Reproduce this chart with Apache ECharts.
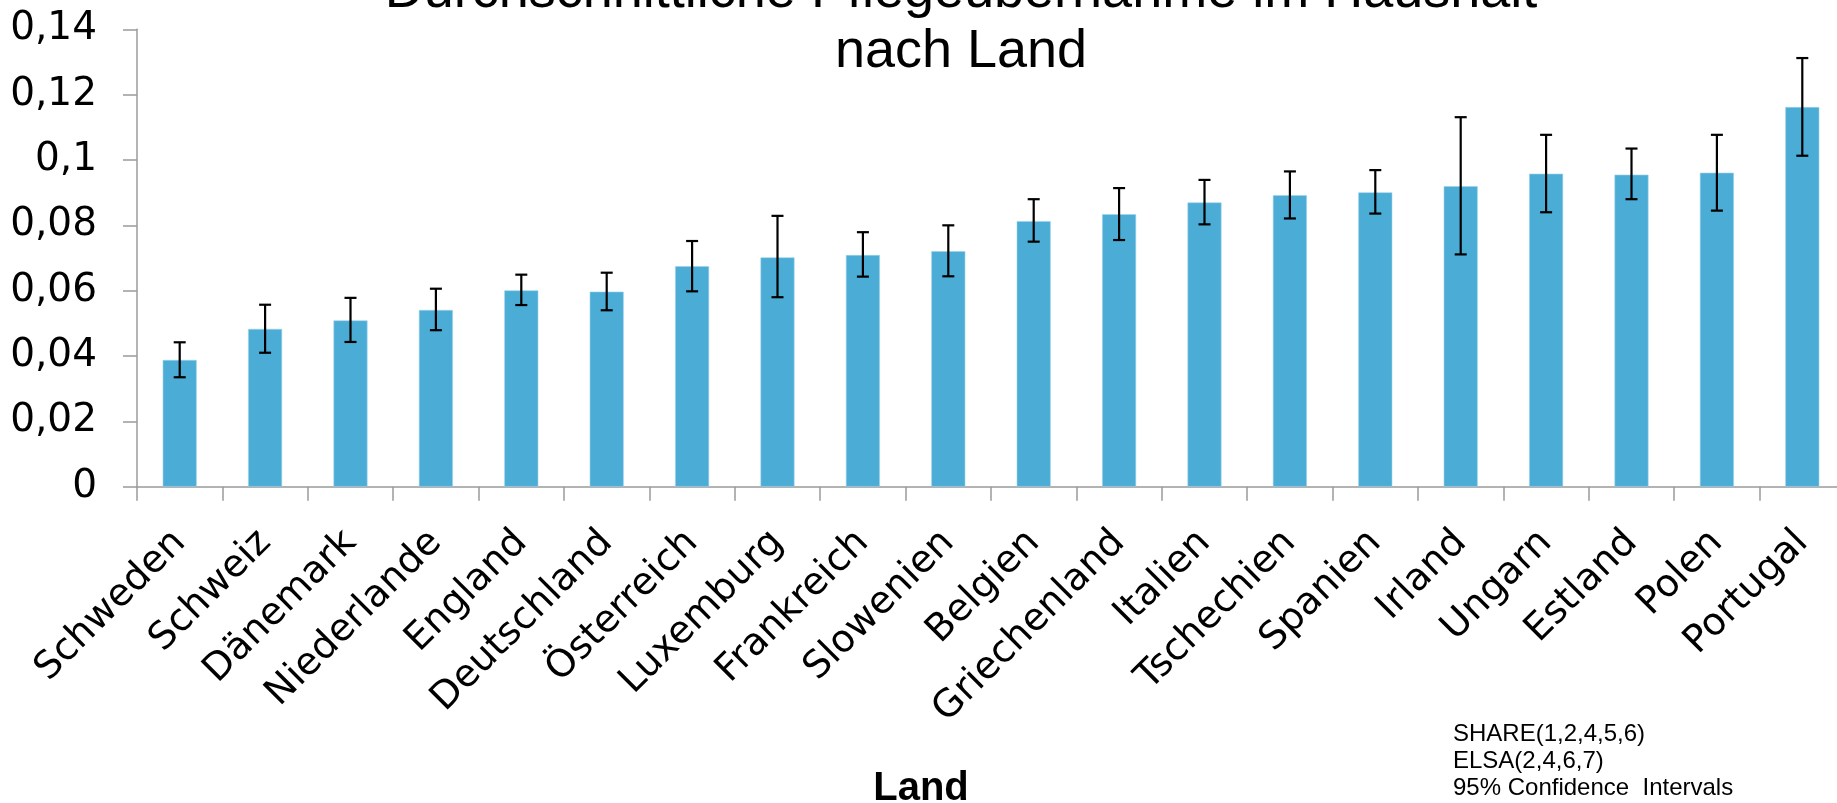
<!DOCTYPE html>
<html>
<head>
<meta charset="utf-8">
<script src="https://cdn.jsdelivr.net/npm/echarts@6/dist/echarts.min.js"></script>
<style>
  html, body { margin: 0; padding: 0; background: #fff; }
  #chart { width: 1837px; height: 803px; }
</style>
</head>
<body>
<div id="chart"></div>
<script>
const categories = ['Schweden', 'Schweiz', 'Dänemark', 'Niederlande', 'England', 'Deutschland', 'Österreich', 'Luxemburg', 'Frankreich', 'Slowenien', 'Belgien', 'Griechenland', 'Italien', 'Tschechien', 'Spanien', 'Irland', 'Ungarn', 'Estland', 'Polen', 'Portugal'];
const values = [0.0388, 0.0483, 0.0509, 0.0541, 0.0601, 0.0597, 0.0675, 0.0702, 0.0709, 0.0721, 0.0813, 0.0834, 0.0870, 0.0892, 0.0901, 0.0920, 0.0958, 0.0955, 0.0961, 0.1162];
const ciLow = [0.0335, 0.0410, 0.0443, 0.0479, 0.0556, 0.0540, 0.0598, 0.0580, 0.0643, 0.0644, 0.0750, 0.0755, 0.0803, 0.0821, 0.0836, 0.0711, 0.0840, 0.0880, 0.0845, 0.1013];
const ciHigh = [0.0442, 0.0557, 0.0578, 0.0606, 0.0649, 0.0655, 0.0752, 0.0829, 0.0779, 0.0800, 0.0880, 0.0914, 0.0939, 0.0965, 0.0969, 0.1131, 0.1077, 0.1035, 0.1077, 0.1312];
const titleText = 'Durchschnittliche Pflegeübernahme im Haushalt\nnach Land';
const xAxisName = 'Land';
const noteText = 'SHARE(1,2,4,5,6)\nELSA(2,4,6,7)\n95% Confidence  Intervals';

const FONT = '"Liberation Sans", Arial, sans-serif';
const AXFONT = '"DejaVu Sans", sans-serif';
const chart = echarts.init(document.getElementById('chart'), null, { renderer: 'canvas' });

const errData = categories.map((c, i) => [i, ciLow[i], ciHigh[i]]);

const option = {
  animation: false,
  backgroundColor: '#ffffff',
  textStyle: { fontFamily: FONT },
  grid: { left: 137, top: 29.3, width: 1708, height: 457.4, containLabel: false, outerBoundsMode: 'none' },
  xAxis: {
    type: 'category',
    data: categories,
    boundaryGap: true,
    axisLine: { lineStyle: { color: '#9b9b9b', width: 1.5 } },
    axisTick: { show: true, length: 14, alignWithLabel: false, lineStyle: { color: '#9b9b9b', width: 1.5 } },
    axisLabel: {
      interval: 0, rotate: 45, margin: 50, verticalAlign: 'middle',
      fontSize: 38, color: '#000', fontFamily: AXFONT
    },
    splitLine: { show: false }
  },
  yAxis: {
    type: 'value',
    min: 0, max: 0.14, interval: 0.02,
    axisLine: { show: true, lineStyle: { color: '#9b9b9b', width: 1.5 } },
    axisTick: { show: true, length: 14, lineStyle: { color: '#9b9b9b', width: 1.5 } },
    axisLabel: {
      margin: 40, fontSize: 39, color: '#000', fontFamily: AXFONT,
      formatter: v => String(+v.toFixed(2)).replace('.', ',')
    },
    splitLine: { show: false }
  },
  series: [
    {
      type: 'bar',
      data: values,
      barWidth: 34,
      itemStyle: { color: '#4bacd6', borderColor: '#9fd3ea', borderWidth: 0.6 },
      z: 2
    },
    {
      type: 'custom',
      data: errData,
      encode: { x: 0, y: [1, 2] },
      z: 5,
      renderItem: function (params, api) {
        const x = api.value(0);
        const lo = api.coord([x, api.value(1)]);
        const hi = api.coord([x, api.value(2)]);
        const w = 6;
        const st = { stroke: '#000', lineWidth: 2.2 };
        return {
          type: 'group',
          children: [
            { type: 'line', shape: { x1: lo[0], y1: lo[1], x2: hi[0], y2: hi[1] }, style: st },
            { type: 'line', shape: { x1: lo[0] - w, y1: lo[1], x2: lo[0] + w, y2: lo[1] }, style: st },
            { type: 'line', shape: { x1: hi[0] - w, y1: hi[1], x2: hi[0] + w, y2: hi[1] }, style: st }
          ]
        };
      }
    }
  ],
  graphic: [
    {
      type: 'text', x: 961, y: 22,
      style: { text: titleText, font: '54px ' + FONT, fill: '#000', align: 'center', verticalAlign: 'middle', lineHeight: 60 }
    },
    {
      type: 'text', x: 921, y: 789,
      style: { text: xAxisName, font: 'bold 40px ' + FONT, fill: '#000', align: 'center', verticalAlign: 'middle' }
    },
    {
      type: 'text', x: 1453, y: 761,
      style: { text: noteText, font: '24px ' + FONT, fill: '#000', align: 'left', verticalAlign: 'middle', lineHeight: 27 }
    }
  ]
};
chart.setOption(option);
</script>
</body>
</html>
